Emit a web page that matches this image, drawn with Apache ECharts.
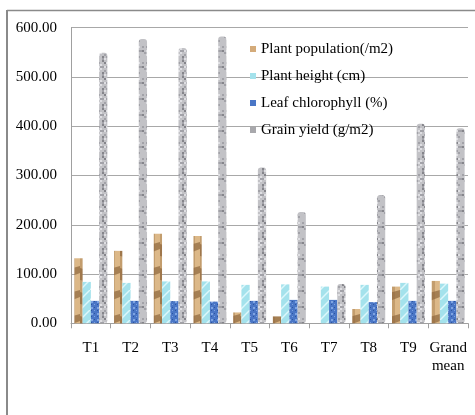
<!DOCTYPE html>
<html><head><meta charset="utf-8">
<script src="https://cdn.jsdelivr.net/npm/echarts@6/dist/echarts.min.js"></script>
<style>html,body{margin:0;padding:0;background:#fff}#c{width:475px;height:415px}</style>
</head><body><div id="c"></div>
<script>
const categories = ['T1','T2','T3','T4','T5','T6','T7','T8','T9','Grand mean'];
const plantPopulation = [132,147,182,177,22,14,0,29,74.5,86];
const plantHeight = [84,82,85,85,78,79,74.5,78,82,80.5];
const leafChlorophyll = [45.5,45.5,45,44,45.5,47.5,47.5,43,45.5,45.5];
const grainYield = [549,577,559,582,316,226,80,260,405,396];
const seriesNames = ['Plant population(/m2)','Plant height (cm)','Leaf chlorophyll (%)','Grain yield (g/m2)'];

function h(i,j,k){ return ((i*73856093) ^ (j*19349663) ^ (k*83492791)) >>> 0; }
function makePattern(w,hgt,draw){ const c=document.createElement('canvas'); c.width=w; c.height=hgt; draw(c.getContext('2d'),w,hgt); return {image:c, repeat:'repeat'}; }

const woodPat = makePattern(40,48,(g,w,H)=>{
  g.fillStyle='#dcb888'; g.fillRect(0,0,w,H);
  g.fillStyle='rgba(120,80,40,0.55)';
  for(let y=-24;y<H+24;y+=24){
    g.beginPath(); g.moveTo(0,y+4); g.quadraticCurveTo(14,y+10,40,y+2); g.lineTo(40,y+9); g.quadraticCurveTo(14,y+20,0,y+16); g.closePath(); g.fill();
  }
  g.fillStyle='rgba(150,105,60,0.35)';
  for(let x=0;x<w;x+=8){ g.fillRect(x,0,3,H); }
});
const cyanPat = makePattern(10,10,(g,w,H)=>{
  g.fillStyle='#a4e2ec'; g.fillRect(0,0,w,H);
  g.strokeStyle='rgba(235,252,255,0.8)'; g.lineWidth=1.5;
  g.beginPath(); g.moveTo(0,10); g.lineTo(10,0); g.stroke();
});
const bluePat = makePattern(6,6,(g,w,H)=>{
  g.fillStyle='#4a76c6'; g.fillRect(0,0,w,H);
  g.fillStyle='#7ea4e2'; g.fillRect(1,1,2,2); g.fillRect(4,4,1,1);
  g.fillStyle='#2c559e'; g.fillRect(4,1,1,1); g.fillRect(1,4,1,1);
});
const grayPat = makePattern(16,16,(g,w,H)=>{
  g.fillStyle='#c2c2c6'; g.fillRect(0,0,w,H);
  for(let i=0;i<w;i+=2) for(let j=0;j<H;j+=2){
    const v=h(i,j,7)%9;
    if(v===0){ g.fillStyle='#85858b'; g.fillRect(i,j,2,2); }
    else if(v===1){ g.fillStyle='#a2a2a8'; g.fillRect(i,j,2,2); }
    else if(v===2){ g.fillStyle='#dedee2'; g.fillRect(i,j,2,2); }
  }
});
const legendColors = ['#d4ab7a','#a4e2ec','#4a76c6','#a8a8ac'];
const fills = [woodPat, cyanPat, bluePat, grayPat];
const values = [plantPopulation, plantHeight, leafChlorophyll, grainYield];

const font = '"Liberation Serif","Times New Roman",serif';
const chart = echarts.init(document.getElementById('c'), null, {renderer:'canvas'});
chart.setOption({
  animation:false,
  backgroundColor:'#fff',
  grid:{left:71, right:7, top:27.7, bottom:91.7},
  legend:{
    orient:'vertical', left:250, top:41.5, padding:0, itemWidth:6, itemHeight:6, itemGap:12, itemTextGap:6,
    textStyle:{fontFamily:font, fontSize:15, color:'#000', lineHeight:15},
    data: seriesNames.map((n,i)=>({name:n, icon:'rect', itemStyle:{color:legendColors[i]}}))
  },
  xAxis:{
    type:'category', data:categories,
    axisLine:{lineStyle:{color:'#a0a0a0', width:1}},
    axisTick:{show:true, length:5, lineStyle:{color:'#a0a0a0'}},
    axisLabel:{fontFamily:font, fontSize:15, color:'#000', margin:16, lineHeight:18, interval:0,
      formatter:v=>v.replace(' ','\n')}
  },
  yAxis:{
    type:'value', min:0, max:600, interval:100,
    axisLine:{show:true, lineStyle:{color:'#a0a0a0'}},
    axisTick:{show:false},
    splitLine:{lineStyle:{color:'#a8a8a8', width:1}},
    axisLabel:{fontFamily:font, fontSize:15, color:'#000', margin:14, formatter:v=>v.toFixed(2)}
  },
  series: seriesNames.map((n,i)=>({
    name:n, type:'bar', data:values[i], barGap:'0%', barCategoryGap:'17%',
    itemStyle:{color:fills[i], borderRadius: i===3?[3,3,3,3]:0}
  })),
  graphic:[
    {type:'line', shape:{x1:7,y1:10,x2:7,y2:415}, style:{stroke:'#8a8a8a', lineWidth:2}},
    {type:'line', shape:{x1:7,y1:10.5,x2:475,y2:10.5}, style:{stroke:'#8a8a8a', lineWidth:1.5}}
  ]
});
</script></body></html>
